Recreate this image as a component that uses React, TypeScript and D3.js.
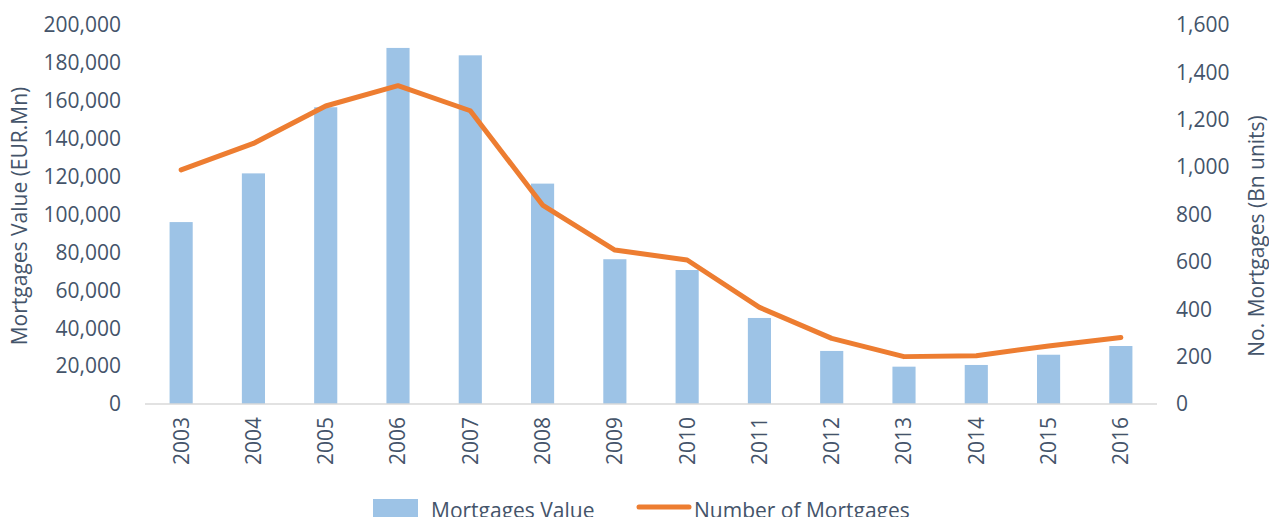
import React from "react";
import * as d3 from "d3";

const years = ["2003","2004","2005","2006","2007","2008","2009","2010","2011","2012","2013","2014","2015","2016"];
const mortgageValue = [96000,121700,156600,187900,184000,116300,76400,70700,45400,28000,19700,20600,26000,30600];
const mortgageCount = [988,1100,1258,1344,1238,840,650,608,408,277,200,204,245,281];
const leftTicks = [0,20000,40000,60000,80000,100000,120000,140000,160000,180000,200000];
const rightTicks = [0,200,400,600,800,1000,1200,1400,1600];

const W = 1269, H = 517;
const X0 = 145, X1 = 1157, Y0 = 404, Y1 = 25;
const FONT = "'Open Sans', sans-serif";
const TXT = "#44546A";
const FS = 21;

export default function App() {
  const x = d3.scaleBand<string>().domain(years).range([X0, X1]).paddingInner(0.68).paddingOuter(0.34);
  const yL = d3.scaleLinear().domain([0, 200000]).range([Y0, Y1]);
  const yR = d3.scaleLinear().domain([0, 1600]).range([Y0, Y1]);
  const fmt = d3.format(",");
  const line = d3.line<number>()
    .x((_, i) => (x(years[i]) as number) + x.bandwidth() / 2)
    .y((d) => yR(d));
  return (
    <svg width={W} height={H} style={{ position: "absolute", left: 0, top: 0, fontFamily: FONT }}>
      <rect x={0} y={0} width={W} height={H} fill="#fff" />
      {years.map((yr, i) => (
        <rect key={yr} x={x(yr)} y={yL(mortgageValue[i])} width={x.bandwidth()} height={Y0 - yL(mortgageValue[i])} fill="#9DC3E6" />
      ))}
      <line x1={X0} x2={X1} y1={Y0} y2={Y0} stroke="#D9D9D9" strokeWidth={1.5} />
      <path d={line(mortgageCount) || ""} fill="none" stroke="#ED7D31" strokeWidth={5} strokeLinecap="round" strokeLinejoin="round" />
      {leftTicks.map((t) => (
        <text key={t} x={121} y={yL(t)} dy="0.35em" textAnchor="end" fontSize={FS} fill={TXT}>{fmt(t)}</text>
      ))}
      {rightTicks.map((t) => (
        <text key={t} x={1176} y={yR(t)} dy="0.35em" textAnchor="start" fontSize={FS} fill={TXT}>{fmt(t)}</text>
      ))}
      {years.map((yr) => (
        <text key={yr} transform={`translate(${(x(yr) as number) + x.bandwidth() / 2},417) rotate(-90)`} dy="0.35em" textAnchor="end" fontSize={FS} fill={TXT}>{yr}</text>
      ))}
      <text transform={`translate(20,216) rotate(-90)`} dy="0.35em" textAnchor="middle" fontSize={FS} fill={TXT}>Mortgages Value (EUR.Mn)</text>
      <text transform={`translate(1257,236) rotate(-90)`} dy="0.35em" textAnchor="middle" fontSize={FS} fill={TXT}>No. Mortgages (Bn units)</text>
      <rect x={373} y={499} width={45} height={20} fill="#9DC3E6" />
      <text x={431} y={518} fontSize={FS} fill={TXT}>Mortgages Value</text>
      <line x1={639} x2={689} y1={507} y2={507} stroke="#ED7D31" strokeWidth={5} strokeLinecap="round" />
      <text x={694} y={518} fontSize={FS} fill={TXT}>Number of Mortgages</text>
    </svg>
  );
}
